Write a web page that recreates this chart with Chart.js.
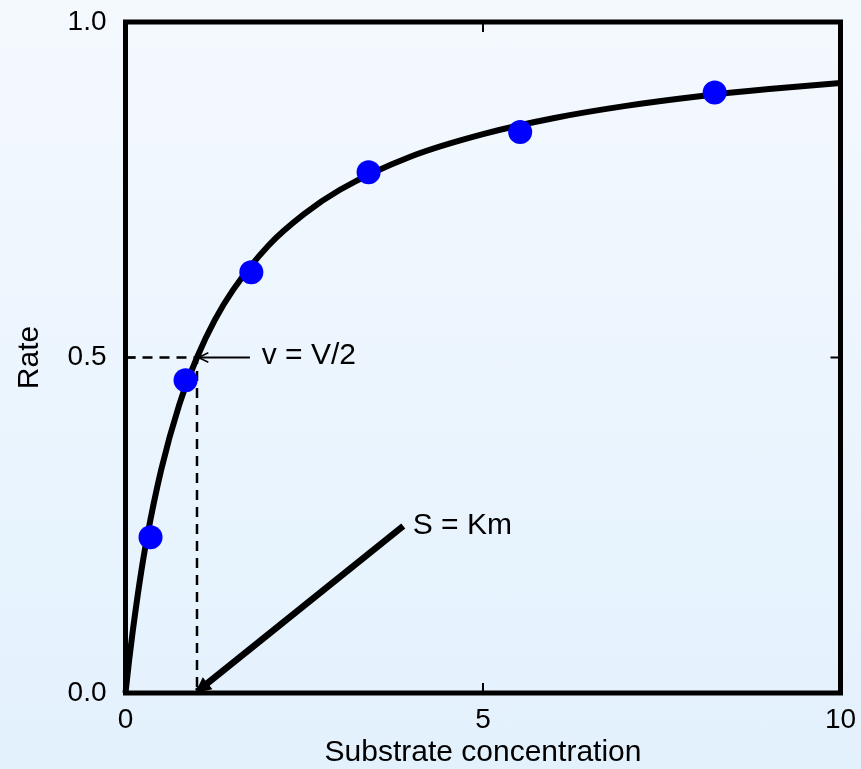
<!DOCTYPE html>
<html>
<head>
<meta charset="utf-8">
<script src="https://cdn.jsdelivr.net/npm/chart.js@4.4.1/dist/chart.umd.min.js"></script>
<style>
  html, body { margin: 0; padding: 0; }
  body { width: 861px; height: 769px; background: linear-gradient(to bottom, #f4f9fe 0%, #e3f1fd 100%); overflow: hidden; }
  canvas { display: block; }
</style>
</head>
<body>
<canvas id="c" width="861" height="769"></canvas>
<script>
// Measured data points (substrate concentration, rate)
const measuredS = [0.35, 0.84, 1.76, 3.40, 5.52, 8.24];
const measuredV = [0.232, 0.466, 0.627, 0.776, 0.836, 0.895];

// Fitted saturation curve
const curveS = [0, 0.05, 0.1, 0.2, 0.3, 0.5, 0.75, 1, 1.25, 1.5, 2, 2.5, 3, 4, 5, 6, 7, 8, 9, 10];
const curveV = [0, 0.048, 0.091, 0.167, 0.231, 0.333, 0.429, 0.5, 0.556, 0.6, 0.667, 0.714, 0.75, 0.8, 0.833, 0.857, 0.875, 0.889, 0.9, 0.909];

// Tick values and labels
const xTickValues = [0, 5, 10];
const xTickLabels = ['0', '5', '10'];
const yTickValues = [0, 0.5, 1];
const yTickLabels = ['0.0', '0.5', '1.0'];

// Annotation guides (data coordinates)
const halfRateGuideS = [0, 1, 1];
const halfRateGuideV = [0.5, 0.5, 0];
const halfRateArrowS = [1.74, 1.02];
const halfRateArrowV = [0.5, 0.5];
const kmArrowS = [3.885, 1.0];
const kmArrowV = [0.249, 0.002];
const labelTexts = ['v = V/2', 'S = Km'];
const labelS = [1.905, 4.017];
const labelV = [0.502, 0.249];

const FONT = '"Liberation Sans", Arial, sans-serif';
const toXY = (xs, ys) => xs.map((x, i) => ({ x: x, y: ys[i] }));

const framePlugin = {
  id: 'frame',
  afterDatasetsDraw(chart) {
    const ctx = chart.ctx;
    const a = chart.chartArea;
    const xs = chart.scales.x, ys = chart.scales.y;
    ctx.save();
    const drawHead = (dsIndex, filled, size, width) => {
      const pts = chart.getDatasetMeta(dsIndex).data;
      const p1 = pts[pts.length - 2], p2 = pts[pts.length - 1];
      const ang = Math.atan2(p2.y - p1.y, p2.x - p1.x);
      ctx.beginPath();
      ctx.moveTo(p2.x - size * Math.cos(ang - 0.45), p2.y - size * Math.sin(ang - 0.45));
      ctx.lineTo(p2.x, p2.y);
      ctx.lineTo(p2.x - size * Math.cos(ang + 0.45), p2.y - size * Math.sin(ang + 0.45));
      if (filled) { ctx.closePath(); ctx.fillStyle = '#000'; ctx.fill(); }
      ctx.strokeStyle = '#000';
      ctx.lineWidth = width;
      ctx.stroke();
    };
    drawHead(3, false, 11, 1.5);
    drawHead(4, true, 14, 2);
    ctx.fillStyle = '#000';
    ctx.font = '30px ' + FONT;
    ctx.textAlign = 'left';
    ctx.textBaseline = 'middle';
    labelTexts.forEach((t, i) => {
      ctx.fillText(t, xs.getPixelForValue(labelS[i]), ys.getPixelForValue(labelV[i]));
    });
    ctx.strokeStyle = '#000';
    ctx.lineWidth = 2;
    xTickValues.slice(1, -1).forEach(v => {
      const px = xs.getPixelForValue(v);
      ctx.beginPath();
      ctx.moveTo(px, a.bottom); ctx.lineTo(px, a.bottom - 10);
      ctx.moveTo(px, a.top); ctx.lineTo(px, a.top + 10);
      ctx.stroke();
    });
    yTickValues.slice(1, -1).forEach(v => {
      const py = ys.getPixelForValue(v);
      ctx.beginPath();
      ctx.moveTo(a.left, py); ctx.lineTo(a.left + 10, py);
      ctx.moveTo(a.right, py); ctx.lineTo(a.right - 10, py);
      ctx.stroke();
    });
    ctx.lineWidth = 5;
    ctx.strokeRect(a.left, a.top, a.right - a.left, a.bottom - a.top);
    ctx.restore();
  }
};

const zeroPad = s => { s.paddingLeft = 0; s.paddingRight = 0; s.paddingTop = 0; s.paddingBottom = 0; };

new Chart(document.getElementById('c'), {
  type: 'scatter',
  data: {
    datasets: [
      {
        label: 'Measured',
        data: toXY(measuredS, measuredV),
        backgroundColor: '#0000ff',
        borderColor: '#0000ff',
        pointRadius: 12,
        pointBorderWidth: 0,
        showLine: false
      },
      {
        label: 'Fit',
        data: toXY(curveS, curveV),
        showLine: true,
        borderColor: '#000',
        borderWidth: 6,
        pointRadius: 0,
        cubicInterpolationMode: 'monotone',
        fill: false
      },
      {
        label: 'Half guide',
        data: toXY(halfRateGuideS, halfRateGuideV),
        showLine: true,
        borderColor: '#000',
        borderWidth: 2.5,
        borderDash: [10, 7],
        pointRadius: 0,
        fill: false
      },
      {
        label: 'Half arrow',
        data: toXY(halfRateArrowS, halfRateArrowV),
        showLine: true,
        borderColor: '#000',
        borderWidth: 2,
        pointRadius: 0,
        fill: false
      },
      {
        label: 'Km arrow',
        data: toXY(kmArrowS, kmArrowV),
        showLine: true,
        borderColor: '#000',
        borderWidth: 6.5,
        pointRadius: 0,
        fill: false
      }
    ]
  },
  options: {
    responsive: false,
    animation: false,
    devicePixelRatio: 1,
    clip: false,
    layout: { padding: { left: 0, top: 22, right: 20.5, bottom: 0 } },
    plugins: { legend: { display: false }, tooltip: { enabled: false } },
    scales: {
      x: {
        type: 'linear',
        min: 0, max: 10,
        afterFit(s) { s.height = 76; zeroPad(s); },
        afterBuildTicks(s) { s.ticks = xTickValues.map(v => ({ value: v })); },
        grid: { display: false, drawTicks: false },
        border: { display: false },
        ticks: {
          color: '#000',
          font: { family: FONT, size: 28 },
          padding: 10,
          maxRotation: 0,
          callback(v) { const i = xTickValues.indexOf(v); return i >= 0 ? xTickLabels[i] : ''; }
        },
        title: {
          display: true,
          text: 'Substrate concentration',
          color: '#000',
          font: { family: FONT, size: 30 },
          padding: { top: 0, bottom: -2 }
        }
      },
      y: {
        type: 'linear',
        min: 0, max: 1,
        afterFit(s) { s.width = 125.5; zeroPad(s); },
        afterBuildTicks(s) { s.ticks = yTickValues.map(v => ({ value: v })); },
        grid: { display: false, drawTicks: false },
        border: { display: false },
        ticks: {
          color: '#000',
          font: { family: FONT, size: 28 },
          padding: 19,
          callback(v) { const i = yTickValues.indexOf(v); return i >= 0 ? yTickLabels[i] : ''; }
        },
        title: {
          display: true,
          text: 'Rate',
          color: '#000',
          font: { family: FONT, size: 30 },
          padding: { top: 12, bottom: 0 }
        }
      }
    }
  },
  plugins: [framePlugin]
});
</script>
</body>
</html>
